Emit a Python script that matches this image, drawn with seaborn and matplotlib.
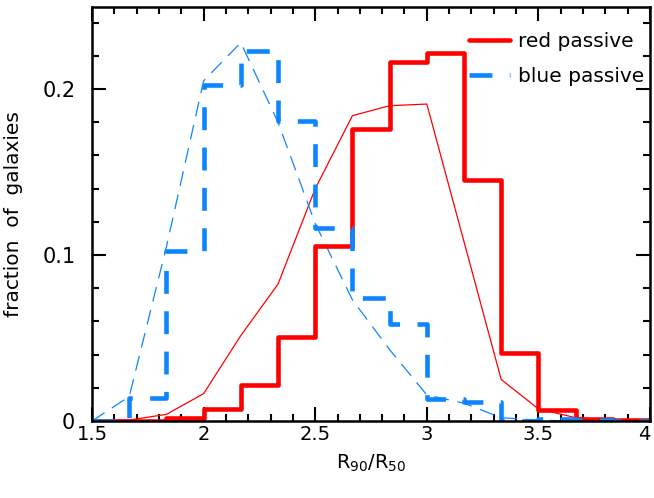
import seaborn as sns
import matplotlib.pyplot as plt
import matplotlib.ticker as mticker
import pandas as pd

# bin edges of R90/R50 (width 1/6) and fractions
edges = [1.5, 1.6667, 1.8333, 2.0, 2.1667, 2.3333, 2.5, 2.6667, 2.8333,
         3.0, 3.1667, 3.3333, 3.5, 3.6667, 3.8333, 4.0]
red_hist = [0.0, 0.0, 0.002, 0.0075, 0.022, 0.0505, 0.1055, 0.176, 0.2165,
            0.222, 0.1455, 0.041, 0.0068, 0.0012, 0.0005]
blue_hist = [0.0, 0.014, 0.1025, 0.2025, 0.223, 0.1805, 0.1165, 0.074, 0.0585,
             0.0132, 0.0115, 0.0, 0.001, 0.0005, 0.0]
red_model = [0.0, 0.0006, 0.004, 0.0165, 0.0515, 0.0825, 0.14, 0.184, 0.19,
             0.191, 0.108, 0.025, 0.0073, 0.002, 0.0005, 0.0]
blue_model = [0.0, 0.0147, 0.105, 0.205, 0.228, 0.18, 0.119, 0.073, 0.043,
              0.0157, 0.0107, 0.002, 0.0005, 0.0, 0.0, 0.0]

red = '#ff0000'
blue = '#0d85ff'

sns.set_style('ticks')
plt.rcParams['font.family'] = ['DejaVu Sans']
for k in ['text.color', 'axes.labelcolor', 'xtick.color', 'ytick.color', 'axes.edgecolor']:
    plt.rcParams[k] = 'black'

fig = plt.figure(figsize=(6.54, 4.98), dpi=100)
ax = fig.add_axes([0.1407, 0.1546, 0.8532, 0.8314])

# step histograms: repeat last value so the final bin is closed at x=4
df_red = pd.DataFrame({'x': edges, 'y': red_hist + [red_hist[-1]]})
df_blue = pd.DataFrame({'x': edges, 'y': blue_hist + [blue_hist[-1]]})
df_rm = pd.DataFrame({'x': edges, 'y': red_model})
df_bm = pd.DataFrame({'x': edges, 'y': blue_model})

sns.lineplot(data=df_rm, x='x', y='y', color=red, lw=0.9, ax=ax)
sns.lineplot(data=df_bm, x='x', y='y', color=blue, lw=0.9,
             linestyle=(0, (12, 7)), ax=ax)
sns.lineplot(data=df_red, x='x', y='y', color=red, lw=3.3,
             drawstyle='steps-post', label='red passive', ax=ax)
sns.lineplot(data=df_blue, x='x', y='y', color=blue, lw=3.3,
             drawstyle='steps-post', linestyle=(0, (5.0, 3.8)),
             dash_capstyle='butt', label='blue passive', ax=ax)

ax.set_xlim(1.5, 4)
ax.set_ylim(0, 0.2495)
x_ticks = [1.5, 2, 2.5, 3, 3.5, 4]
ax.set_xticks(x_ticks, [f'{v:g}' for v in x_ticks])
ax.xaxis.set_minor_locator(mticker.MultipleLocator(0.1))
ax.yaxis.set_major_locator(mticker.MultipleLocator(0.1))
ax.yaxis.set_minor_locator(mticker.MultipleLocator(0.02))
ax.yaxis.set_major_formatter(mticker.FuncFormatter(lambda v, p: f'{v:g}'))
ax.tick_params(which='both', direction='in', top=True, right=True,
               labelsize=15, width=1.5)
ax.tick_params(axis='x', pad=3, labelsize=14)
ax.tick_params(axis='y', pad=12)
ax.tick_params(which='major', length=10)
ax.tick_params(which='minor', length=5)
# keep the last x label inside the figure
ax.get_xticklabels()[-1].set_ha('right')
for s in ax.spines.values():
    s.set_linewidth(1.8)
    s.set_visible(True)

ax.set_xlabel('$\\mathregular{R_{90}/R_{50}}$', fontsize=14, labelpad=6)
ax.set_ylabel('fraction  of  galaxies', fontsize=14.5, labelpad=14)

leg = ax.legend(loc='upper right', bbox_to_anchor=(1.0, 0.955), frameon=False,
                fontsize=14.5, handlelength=2.0, handletextpad=0.4,
                labelspacing=0.8, borderaxespad=0.0, borderpad=0.3)

fig.savefig('out.png', dpi=100)
